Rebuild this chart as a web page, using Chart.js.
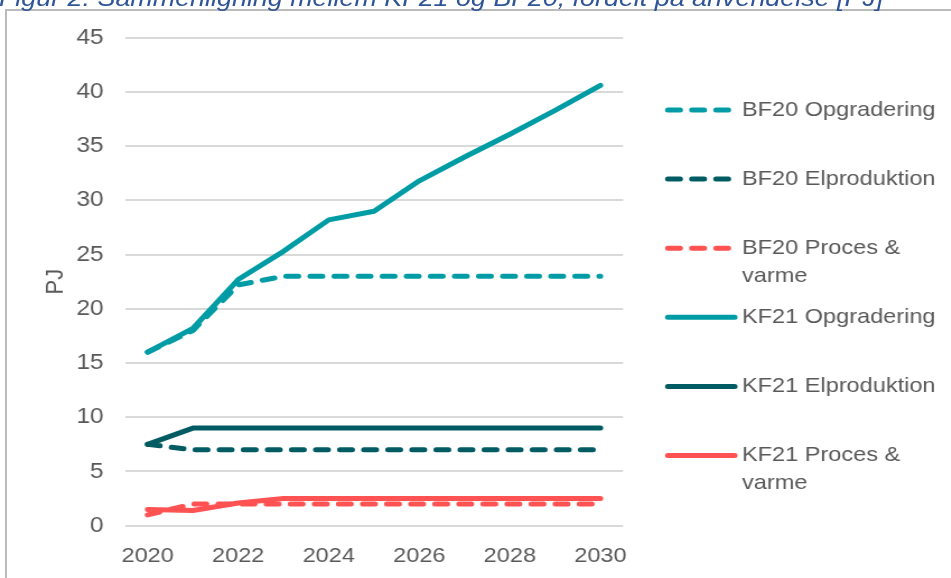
<!DOCTYPE html>
<html>
<head>
<meta charset="utf-8">
<script src="https://cdn.jsdelivr.net/npm/chart.js@4/dist/chart.umd.min.js"></script>
<style>
  html, body { margin: 0; padding: 0; background: #fff; overflow: hidden; }
  body { width: 951px; height: 578px; position: relative; }
  #frame {
    position: absolute; left: 5px; top: 9px; width: 960px; height: 600px;
    border: 2px solid #BBBBBB; box-sizing: border-box;
  }
  #wrap {
    position: absolute; left: 0; top: 0; width: 849px; height: 578px;
    transform: scaleX(1.12); transform-origin: 0 0;
  }
  #title {
    position: absolute; left: -1px; top: -16px; white-space: nowrap; line-height: 24px;
    font: italic 24px "Liberation Sans", Arial, sans-serif; color: #2F5597;
  }
  canvas { position: absolute; left: 0; top: 0; }
</style>
</head>
<body>
<div id="frame"></div>
<div id="wrap">
  <div id="title">Figur 2: Sammenligning mellem KF21 og BF20, fordelt på anvendelse [PJ]</div>
  <canvas id="grafico" width="849" height="578"></canvas>
</div>
<script>
// Data (PJ)
const aar = [2020, 2021, 2022, 2023, 2024, 2025, 2026, 2027, 2028, 2029, 2030];
const yTicks = [0, 5, 10, 15, 20, 25, 30, 35, 40, 45];

const bf20Opgradering = [16, 18, 22.2, 23, 23, 23, 23, 23, 23, 23, 23];
const bf20Elproduktion = [7.5, 7, 7, 7, 7, 7, 7, 7, 7, 7, 7];
const bf20Proces = [1, 2, 2, 2, 2, 2, 2, 2, 2, 2, 2];
const kf21Opgradering = [16, 18.2, 22.7, 25.3, 28.2, 29, 31.8, 34, 36.1, 38.3, 40.6];
const kf21Elproduktion = [7.5, 9, 9, 9, 9, 9, 9, 9, 9, 9, 9];
const kf21Proces = [1.5, 1.4, 2.1, 2.5, 2.5, 2.5, 2.5, 2.5, 2.5, 2.5, 2.5];

const navne = [
    'BF20 Opgradering', 'BF20 Elproduktion', 'BF20 Proces &\nvarme',
    'KF21 Opgradering', 'KF21 Elproduktion', 'KF21 Proces &\nvarme'
];

const teal = '#009CA6';
const moerkTeal = '#005C62';
const roed = '#FF5252';
const tekstFarve = '#595959';
const streg = [11, 10.5];

Chart.defaults.font.family = '"Liberation Sans", Arial, sans-serif';
Chart.defaults.color = tekstFarve;

function serie(label, data, farve, stiplet) {
    return {
        label: label,
        data: data,
        borderColor: farve,
        backgroundColor: farve,
        borderWidth: 5,
        borderDash: stiplet ? streg : [],
        borderCapStyle: 'round',
        borderJoinStyle: 'round',
        pointRadius: 0,
        tension: 0,
        fill: false,
        order: stiplet ? 1 : 0
    };
}

// Legend drawn by hand so the two-line labels wrap like the original
const legende = {
    id: 'legende',
    afterDraw(chart) {
        const ctx = chart.ctx;
        chart.data.datasets.forEach((ds, i) => {
            const y = 110 + i * 69.1;
            ctx.save();
            ctx.strokeStyle = ds.borderColor;
            ctx.lineWidth = 5;
            ctx.lineCap = 'round';
            ctx.setLineDash(ds.borderDash || []);
            ctx.beginPath();
            ctx.moveTo(596.3, y);
            ctx.lineTo(ds.borderDash.length ? 655.5 : 656, y);
            ctx.stroke();
            ctx.setLineDash([]);
            ctx.fillStyle = tekstFarve;
            ctx.font = '21px "Liberation Sans", Arial, sans-serif';
            ctx.textBaseline = 'middle';
            ds.label.split('\n').forEach((linje, j) => {
                ctx.fillText(linje, 662.5, y + j * 28);
            });
            ctx.restore();
        });
    }
};

document.addEventListener('DOMContentLoaded', () => {
    const ctx = document.getElementById('grafico').getContext('2d');
    new Chart(ctx, {
        type: 'line',
        data: {
            labels: aar,
            datasets: [
                serie(navne[0], bf20Opgradering, teal, true),
                serie(navne[1], bf20Elproduktion, moerkTeal, true),
                serie(navne[2], bf20Proces, roed, true),
                serie(navne[3], kf21Opgradering, teal, false),
                serie(navne[4], kf21Elproduktion, moerkTeal, false),
                serie(navne[5], kf21Proces, roed, false)
            ]
        },
        options: {
            responsive: false,
            animation: false,
            layout: { padding: { left: 32.5, top: 37.7, right: 292.7, bottom: 0 } },
            plugins: { legend: { display: false }, tooltip: { enabled: false } },
            scales: {
                x: {
                    offset: true,
                    grid: { display: false },
                    border: { display: false },
                    ticks: {
                        autoSkip: false,
                        maxRotation: 0,
                        padding: 10,
                        font: { size: 21 },
                        callback: function (v, i) { return i % 2 === 0 ? this.getLabelForValue(v) : ''; }
                    },
                    afterFit: s => { s.height = 52.3; }
                },
                y: {
                    min: 0,
                    max: 45,
                    afterBuildTicks: s => { s.ticks = yTicks.map(v => ({ value: v })); },
                    grid: { color: '#D9D9D9', lineWidth: 2, drawTicks: false },
                    border: { display: false },
                    ticks: { padding: 19, font: { size: 22 } },
                    title: { display: true, text: 'PJ', font: { size: 22 }, color: tekstFarve },
                    afterFit: s => { s.width = 79.1; }
                }
            }
        },
        plugins: [legende]
    });
});
</script>
</body>
</html>
